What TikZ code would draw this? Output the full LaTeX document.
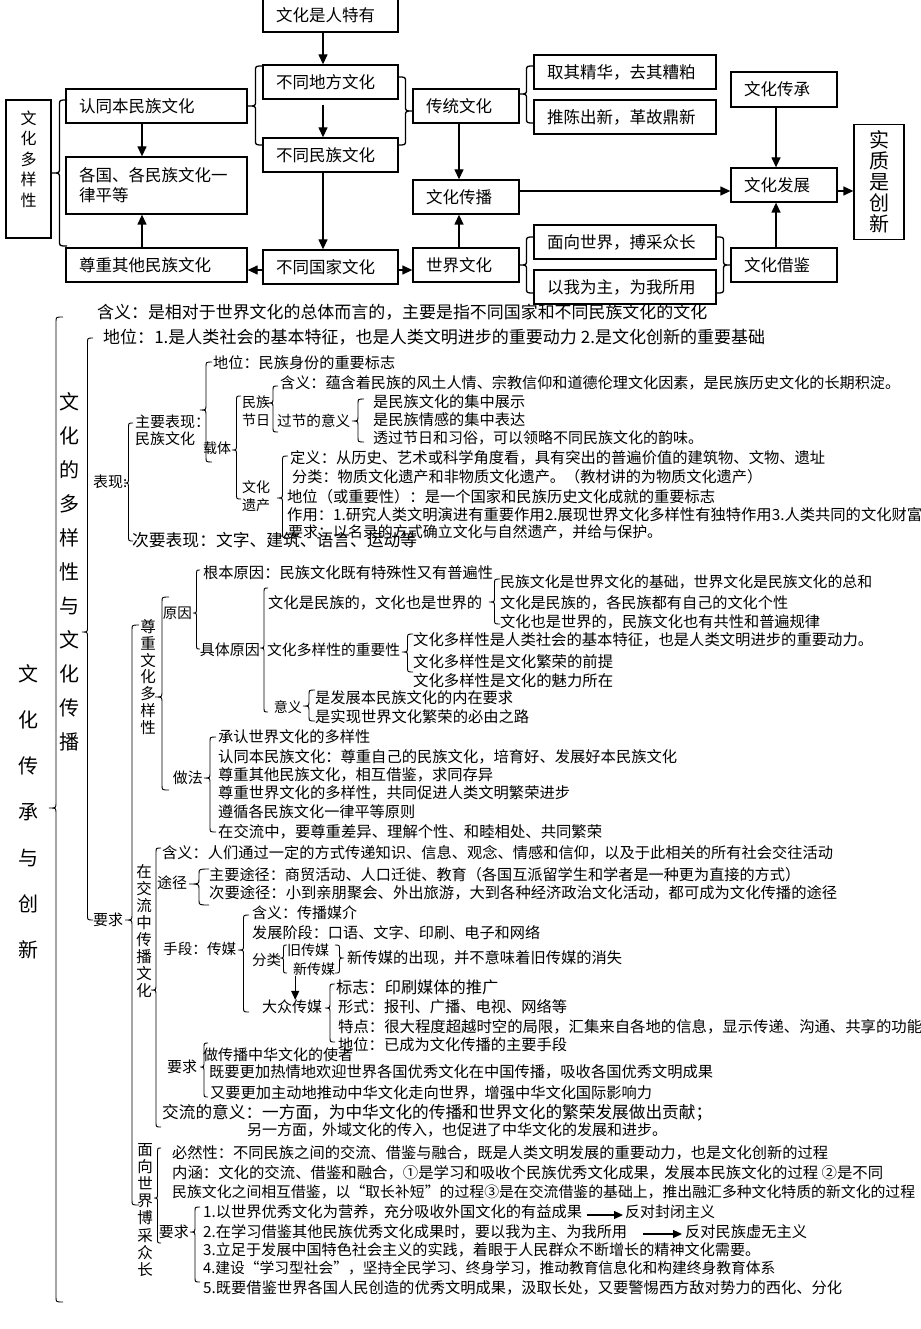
\documentclass[tikz,border=0pt]{standalone}
\usepackage{fontspec}
\usepackage{graphicx}
\setmainfont{Noto Sans CJK SC}
\usetikzlibrary{arrows.meta}
\tikzset{
  box/.style={draw, line width=1.3pt, inner xsep=0pt, inner ysep=0pt, align=left, font=\fontsize{16.5}{20}\selectfont},
  arr/.style={line width=1.3pt, -{Triangle[length=10pt,width=9pt]}},
  sarr/.style={line width=1.2pt, -{Triangle[length=9pt,width=8pt]}},
  brline/.style={line width=0.9pt},
  tbr/.style={line width=1.3pt},
  txt/.style={anchor=west, inner sep=0pt, font=\fontsize{15}{18}\selectfont},
  lab/.style={inner sep=0pt, font=\fontsize{15}{18}\selectfont},
  vt/.style={inner sep=0pt, align=center},
}
\newcommand\brc[6][]{%
  \pgfmathsetmacro\bxo{#2+#6}%
  \pgfmathsetmacro\bxm{#2+0.5*#6}%
  \pgfmathsetmacro\bR{min(5,(#4-#3)/2,(#5-#4)/2)}%
  \draw[brline,#1] (\bxo,#3) .. controls (\bxm,#3) .. (\bxm,{#3+\bR}) -- (\bxm,{#4-\bR}) .. controls (\bxm,#4) .. (#2,#4) .. controls (\bxm,#4) .. (\bxm,{#4+\bR}) -- (\bxm,{#5-\bR}) .. controls (\bxm,#5) .. (\bxo,#5);%
}
\newcommand\tl[5]{%
  \pgfmathsetmacro\tlw{#4-#2}%
  \node[txt] (#1) at (#2,#3) {\resizebox{\tlw pt}{!}{#5}};%
}
\begin{document}
\begin{tikzpicture}[x=1pt,y=-1pt]
\fill[white] (0,0) rectangle (920,1329);
\useasboundingbox (0,0) rectangle (920,1329);

% ---------------- top chart ----------------
\node[box, minimum width=135pt, minimum height=33pt, text width=109pt] (wh) at (330.5,15.5) {文化是人特有};
\node[box, minimum width=135pt, minimum height=34pt, text width=109pt] (df) at (330.5,82) {不同地方文化};
\node[box, minimum width=135pt, minimum height=34pt, text width=109pt] (dm) at (330.5,155) {不同民族文化};
\node[box, minimum width=135pt, minimum height=34pt, text width=109pt] (dg) at (330.5,267) {不同国家文化};
\node[box, minimum width=181pt, minimum height=34pt, text width=155pt] (rt) at (156.5,106) {认同本民族文化};
\node[box, minimum width=181pt, minimum height=57pt, text width=155pt] (gg) at (156.5,185.5) {各国、各民族文化一\\律平等};
\node[box, minimum width=181pt, minimum height=34pt, text width=155pt] (zq) at (156.5,265) {尊重其他民族文化};
\node[box, minimum width=45pt, minimum height=138pt] (dy) at (28.5,169) {};
\node[vt, font=\fontsize{16}{20.5}\selectfont] (dyt) at (28.5,159) {文\\化\\多\\样\\性};
\node[box, minimum width=106pt, minimum height=34pt, text width=80pt] (ct) at (466,106) {传统文化};
\node[box, minimum width=182pt, minimum height=34pt, text width=156pt] (qj) at (625,72) {取其精华，去其糟粕};
\node[box, minimum width=182pt, minimum height=34pt, text width=156pt] (tc) at (625,117) {推陈出新，革故鼎新};
\node[box, minimum width=106pt, minimum height=35pt, text width=80pt] (cc) at (784,89.5) {文化传承};
\node[box, minimum width=106pt, minimum height=34pt, text width=80pt] (fz) at (784,185) {文化发展};
\node[box, minimum width=50pt, minimum height=115pt, align=center, font=\fontsize{20}{21}\selectfont] (sz) at (879,182) {实\\质\\是\\创\\新};
\node[box, minimum width=106pt, minimum height=34pt, text width=80pt] (cb) at (466,197) {文化传播};
\node[box, minimum width=106pt, minimum height=34pt, text width=80pt] (sj) at (466,265) {世界文化};
\node[box, minimum width=182pt, minimum height=34pt, text width=156pt] (mx) at (625,242) {面向世界，搏采众长};
\node[box, minimum width=182pt, minimum height=34pt, text width=156pt] (yw) at (625,287) {以我为主，为我所用};
\node[box, minimum width=106pt, minimum height=34pt, text width=80pt] (jj) at (784,265) {文化借鉴};

\draw[arr] ([xshift=-7.5pt]wh.south) -- ([xshift=-7.5pt]wh.south |- df.north);
\draw[arr, shorten <=5pt] ([xshift=-7.5pt]df.south) -- ([xshift=-7.5pt]df.south |- dm.north);
\draw[arr] ([xshift=-7.5pt]dm.south) -- ([xshift=-7.5pt]dm.south |- dg.north);
\draw[arr] ([xshift=-14.5pt]rt.south) -- ([xshift=-14.5pt]rt.south |- gg.north);
\draw[arr] ([xshift=-14.5pt]zq.north) -- ([xshift=-14.5pt]zq.north |- gg.south);
\draw[arr] ([yshift=-3pt]dg.west) -- ([yshift=-3pt]dg.west -| zq.east);
\draw[arr] ([yshift=-3pt]dg.east) -- ([yshift=-3pt]dg.east -| sj.west);
\draw[arr] ([xshift=-7pt]ct.south) -- ([xshift=-7pt]ct.south |- cb.north);
\draw[arr] ([xshift=-7pt]sj.north) -- ([xshift=-7pt]sj.north |- cb.south);
\draw[arr] ([yshift=6pt]cb.east) -- ([yshift=6pt]cb.east -| fz.west);
\draw[arr] ([xshift=-8pt]cc.south) -- ([xshift=-8pt]cc.south |- fz.north);
\draw[arr] ([xshift=-8pt]jj.north) -- ([xshift=-8pt]jj.north |- fz.south);
\draw[arr] ([yshift=-6pt]fz.east) -- ([yshift=-6pt]fz.east -| sz.west);

\brc[tbr]{52}{100}{173}{246}{15}
\brc[tbr]{248}{66}{106}{145}{15}
\brc[tbr]{413}{77}{111}{145}{-15}
\brc[tbr]{519}{66}{94}{123}{15}
\brc[tbr]{519}{237}{265}{293}{15}
\brc[tbr]{731}{237}{265}{293}{-15}

% ---------------- lower outline ----------------
\node[vt, font=\fontsize{20}{46}\selectfont] (wccc) at (28,812) {文\\化\\传\\承\\与\\创\\新};
\node[vt, font=\fontsize{20}{34}\selectfont] (dyx) at (69,572) {文\\化\\的\\多\\样\\性\\与\\文\\化\\传\\播};
\node[vt, font=\fontsize{15.5}{16.7}\selectfont] (zzwh) at (148,677) {尊\\重\\文\\化\\多\\样\\性};
\node[vt, font=\fontsize{15.5}{16.9}\selectfont] (zjl) at (144,931) {在\\交\\流\\中\\传\\播\\文\\化};
\node[vt, font=\fontsize{15.5}{17.1}\selectfont] (mxsj) at (145,1210) {面\\向\\世\\界\\博\\采\\众\\长};

\brc{49}{317}{808}{1302}{14}
\brc{82}{338}{632}{920}{11}
\brc{125}{625}{920}{1205}{14}

\tl{hy}{97}{312}{707}{含义：是相对于世界文化的总体而言的，主要是指不同国家和不同民族文化的文化}
\tl{dw}{103}{337}{765}{地位：1.是人类社会的基本特征，也是人类文明进步的重要动力 2.是文化创新的重要基础}

% 表现
\node[lab, anchor=west] (bx) at (93,482) {表现:};
\brc{124}{423}{483}{541}{9}
\node[lab, anchor=west, align=left, font=\fontsize{15}{17}\selectfont] (zybx) at (135,430) {主要表现：\\民族文化};
\brc{200}{362}{410}{462}{12}
\tl{dwmz}{213}{363}{395}{地位：民族身份的重要标志}
\node[lab, anchor=west, font=\fontsize{14}{18}\selectfont] (zt) at (203,448) {载体};
\brc{232}{396}{450}{499}{9}
\node[lab, anchor=west, align=left, font=\fontsize{14}{18}\selectfont] (mzjr) at (242,411) {民族\\节日};
\brc{268}{386}{403}{432}{10}
\tl{hyyh}{280}{383}{900}{含义：蕴含着民族的风土人情、宗教信仰和道德伦理文化因素，是民族历史文化的长期积淀。}
\node[lab, anchor=west, font=\fontsize{14.6}{18}\selectfont] (gjyy) at (277,421) {过节的意义};
\brc{352}{399}{421}{442}{12}
\tl{jz1}{373}{402}{525}{是民族文化的集中展示}
\tl{jz2}{373}{420}{525}{是民族情感的集中表达}
\tl{tg}{373}{438}{703}{透过节日和习俗，可以领略不同民族文化的韵味。}
\node[lab, anchor=west, align=left, font=\fontsize{14}{18}\selectfont] (whyc) at (242,496) {文化\\遗产};
\brc{277}{456}{498}{538}{11}
\tl{dy1}{290}{458}{825}{定义：从历史、艺术或科学角度看，具有突出的普遍价值的建筑物、文物、遗址}
\tl{fl}{292}{477}{762}{分类：物质文化遗产和非物质文化遗产。（教材讲的为物质文化遗产）}
\tl{dwzy}{287}{497}{715}{地位（或重要性）：是一个国家和民族历史文化成就的重要标志}
\tl{zy}{287}{515}{922}{作用：1.研究人类文明演进有重要作用2.展现世界文化多样性有独特作用3.人类共同的文化财富}
\tl{yq1}{288}{532}{662}{要求：以名录的方式确立文化与自然遗产，并给与保护。}
\tl{cybx}{132}{540}{417}{次要表现：文字、建筑、语言、运动等}

% 要求
\node[lab, anchor=west] (yq) at (93,920) {要求};

% 尊重文化多样性
\brc{155}{597}{697}{790}{14}
\node[lab, anchor=east, font=\fontsize{14.5}{18}\selectfont] (yy) at (192,613) {原因};
\brc{193}{570}{613}{649}{7}
\tl{gbyy}{203}{573}{493}{根本原因：民族文化既有特殊性又有普遍性}
\node[lab, anchor=east] (jtyy) at (260,650) {具体原因};
\brc{260}{588}{648}{712}{8}
\tl{wh1}{268}{603}{482}{文化是民族的，文化也是世界的}
\brc{489}{579}{602}{624}{11}
\tl{mz1}{500}{582}{872}{民族文化是世界文化的基础，世界文化是民族文化的总和}
\tl{mz2}{500}{603}{788}{文化是民族的，各民族都有自己的文化个性}
\tl{mz3}{500}{622}{820}{文化也是世界的，民族文化也有共性和普遍规律}
\tl{zyx}{267}{650}{400}{文化多样性的重要性}
\brc{402}{634}{652}{672}{11}
\tl{zy1}{413}{640}{873}{文化多样性是人类社会的基本特征，也是人类文明进步的重要动力。}
\tl{zy2}{413}{662}{613}{文化多样性是文化繁荣的前提}
\tl{zy3}{413}{681}{613}{文化多样性是文化的魅力所在}
\node[lab, anchor=east, font=\fontsize{14}{18}\selectfont] (yiyi) at (302,707) {意义};
\brc{303}{690}{706}{721}{12}
\tl{yy1}{315}{698}{513}{是发展本民族文化的内在要求}
\tl{yy2}{315}{717}{529}{是实现世界文化繁荣的必由之路}
\node[lab, anchor=east] (zf) at (203,778) {做法};
\brc{204}{737}{778}{832}{12}
\tl{zf1}{218}{737}{370}{承认世界文化的多样性}
\tl{zf2}{218}{757}{677}{认同本民族文化：尊重自己的民族文化，培育好、发展好本民族文化}
\tl{zf3}{218}{775}{493}{尊重其他民族文化，相互借鉴，求同存异}
\tl{zf4}{218}{793}{570}{尊重世界文化的多样性，共同促进人类文明繁荣进步}
\tl{zf5}{218}{812}{415}{遵循各民族文化一律平等原则}
\tl{zf6}{218}{832}{602}{在交流中，要尊重差异、理解个性、和睦相处、共同繁荣}

% 在交流中传播文化
\brc{151}{848}{990}{1127}{10}
\tl{hy2}{162}{853}{833}{含义：人们通过一定的方式传递知识、信息、观念、情感和信仰，以及于此相关的所有社会交往活动}
\node[lab, anchor=west] (tj) at (157,883) {途径};
\brc{189}{869}{884}{905}{20}
\tl{tj1}{209}{875}{800}{主要途径：商贸活动、人口迁徙、教育（各国互派留学生和学者是一种更为直接的方式）}
\tl{tj2}{209}{893}{837}{次要途径：小到亲朋聚会、外出旅游，大到各种经济政治文化活动，都可成为文化传播的途径}
\node[lab, anchor=west, font=\fontsize{14.6}{18}\selectfont] (sd) at (163,949) {手段：传媒};
\brc{238}{915}{950}{1012}{11}
\tl{cm1}{252}{913}{357}{含义：传播媒介}
\tl{cm2}{252}{933}{540}{发展阶段：口语、文字、印刷、电子和网络}
\node[lab, anchor=west, font=\fontsize{14.5}{18}\selectfont] (fl2) at (252,960) {分类};
\brc{280}{945}{958}{973}{7}
\node[lab, anchor=west, font=\fontsize{14}{18}\selectfont] (jcm) at (287,950) {旧传媒};
\node[lab, anchor=west, font=\fontsize{14}{18}\selectfont] (xcm) at (293,969) {新传媒};
\brc{344}{945}{958}{973}{-9}
\tl{xcmcx}{347}{958}{622}{新传媒的出现，并不意味着旧传媒的消失}
\node[lab, anchor=west] (dzcm) at (262,1007) {大众传媒};
\draw[sarr] ([xshift=-19pt]xcm.south) -- ([xshift=-19pt]xcm.south |- dzcm.north);
\brc{325}{984}{1008}{1042}{10}
\tl{dz1}{336}{987}{498}{标志：印刷媒体的推广}
\tl{dz2}{338}{1007}{567}{形式：报刊、广播、电视、网络等}
\tl{dz3}{338}{1027}{922}{特点：很大程度超越时空的局限，汇集来自各地的信息，显示传递、沟通、共享的功能}
\tl{dz4}{338}{1045}{567}{地位：已成为文化传播的主要手段}
\node[lab, anchor=west] (yq2) at (167,1067) {要求};
\brc{200}{1043}{1067}{1097}{8}
\tl{yq21}{203}{1055}{353}{做传播中华文化的使者}
\tl{yq22}{209}{1072}{713}{既要更加热情地欢迎世界各国优秀文化在中国传播，吸收各国优秀文明成果}
\tl{yq23}{210}{1093}{652}{又要更加主动地推动中华文化走向世界，增强中华文化国际影响力}
\tl{jlyy1}{162}{1113}{712}{交流的意义：一方面，为中华文化的传播和世界文化的繁荣发展做出贡献；}
\tl{jlyy2}{247}{1130}{667}{另一方面，外域文化的传入，也促进了中华文化的发展和进步。}

% 面向世界博采众长
\brc{154}{1148}{1198}{1243}{7}
\tl{br}{172}{1153}{828}{必然性：不同民族之间的交流、借鉴与融合，既是人类文明发展的重要动力，也是文化创新的过程}
\tl{nh1}{172}{1173}{883}{内涵：文化的交流、借鉴和融合，①是学习和吸收个民族优秀文化成果，发展本民族文化的过程 ②是不同}
\tl{nh2}{172}{1192}{915}{民族文化之间相互借鉴，以“取长补短”的过程③是在交流借鉴的基础上，推出融汇多种文化特质的新文化的过程}
\node[lab, anchor=east] (yq3) at (189,1232) {要求};
\brc{190}{1207}{1232}{1282}{10}
\tl{r1}{203}{1212}{582}{1.以世界优秀文化为营养，充分吸收外国文化的有益成果}
\tl{fb}{625}{1212}{715}{反对封闭主义}
\tl{r2}{203}{1232}{627}{2.在学习借鉴其他民族优秀文化成果时，要以我为主、为我所用}
\tl{fm}{685}{1232}{807}{反对民族虚无主义}
\tl{r3}{203}{1250}{760}{3.立足于发展中国特色社会主义的实践，着眼于人民群众不断增长的精神文化需要。}
\tl{r4}{203}{1268}{775}{4.建设“学习型社会”，坚持全民学习、终身学习，推动教育信息化和构建终身教育体系}
\tl{r5}{203}{1288}{842}{5.既要借鉴世界各国人民创造的优秀文明成果，汲取长处，又要警惕西方敌对势力的西化、分化}
\draw[sarr] ([xshift=5pt,yshift=-3pt]r1.east) -- ([xshift=-2pt,yshift=-3pt]fb.west);
\draw[sarr] ([xshift=16pt,yshift=-2pt]r2.east) -- ([xshift=-3pt,yshift=-2pt]fm.west);
\end{tikzpicture}
\end{document}
